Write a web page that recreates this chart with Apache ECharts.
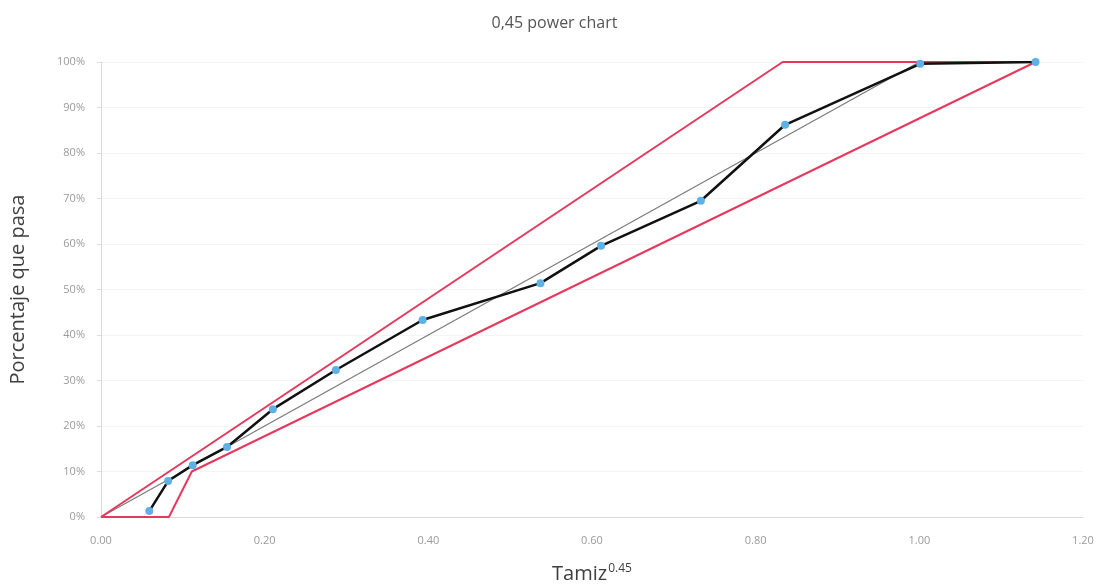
<!DOCTYPE html>
<html>
<head>
<meta charset="utf-8">
<script src="https://cdn.jsdelivr.net/npm/echarts@6/dist/echarts.min.js"></script>
<style>
html,body{margin:0;padding:0;background:#fff;}
#chart{width:1109px;height:588px;}
</style>
</head>
<body>
<div id="chart"></div>
<script>
// Sample curve (tamiz^0.45 vs % passing)
const tamiz = [0.059, 0.082, 0.112, 0.154, 0.210, 0.287, 0.393, 0.537, 0.611, 0.733, 0.836, 1.001, 1.142];
const pasa  = [1.3, 7.9, 11.4, 15.4, 23.7, 32.3, 43.3, 51.4, 59.6, 69.5, 86.2, 99.6, 100];
// Maximum density line
const maxDensX = [0, 1.0];
const maxDensY = [0, 100];
// Specification envelope
const upperX = [0, 0.833, 1.142];
const upperY = [0, 100, 100];
const lowerX = [0, 0.083, 0.111, 1.142];
const lowerY = [0, 0, 10, 100];

const zip = (xs, ys) => xs.map((x, i) => [x, ys[i]]);

const chart = echarts.init(document.getElementById('chart'));
chart.setOption({
  animation: false,
  backgroundColor: '#fff',
  title: {
    text: '0,45 power chart',
    left: 'center',
    top: 10,
    textStyle: {fontFamily: 'Open Sans', fontSize: 16, fontWeight: 'normal', color: '#555'}
  },
  grid: {left: 101, right: 26, top: 62, bottom: 71, outerBoundsMode: 'none', containLabel: false},
  xAxis: {
    type: 'value',
    min: 0, max: 1.2, interval: 0.2,
    name: '{a|Tamiz}{b|0.45}',
    nameLocation: 'middle',
    nameGap: 46,
    nameTextStyle: {
      rich: {
        a: {fontFamily: 'Open Sans', fontSize: 20, color: '#404040'},
        b: {fontFamily: 'Open Sans', fontSize: 12, color: '#404040', verticalAlign: 'top', padding: [0, 0, 10, 1]}
      }
    },
    axisLine: {show: true, lineStyle: {color: '#dcdcdc', width: 1}},
    axisTick: {show: false},
    splitLine: {show: false},
    axisLabel: {
      margin: 18, fontFamily: 'Open Sans', fontSize: 11, color: '#9a9a9a',
      formatter: v => v.toFixed(2)
    }
  },
  yAxis: {
    type: 'value',
    min: 0, max: 100, interval: 10,
    name: 'Porcentaje que pasa',
    nameLocation: 'middle',
    nameGap: 73,
    nameTextStyle: {fontFamily: 'Open Sans', fontSize: 20, color: '#404040'},
    axisLine: {show: true, lineStyle: {color: '#dcdcdc', width: 1}},
    axisTick: {show: true, length: 4, lineStyle: {color: '#dcdcdc'}},
    splitLine: {show: true, lineStyle: {color: '#f4f4f4', width: 1}},
    axisLabel: {
      margin: 16, fontFamily: 'Open Sans', fontSize: 11, color: '#9a9a9a',
      formatter: v => v + '%'
    }
  },
  series: [
    {
      type: 'line', name: 'Máxima densidad',
      data: zip(maxDensX, maxDensY),
      symbol: 'none',
      lineStyle: {color: '#7a7a7a', width: 1.2},
      z: 2
    },
    {
      type: 'line', name: 'Límite superior',
      data: zip(upperX, upperY),
      symbol: 'none',
      lineStyle: {color: '#e6385c', width: 2},
      z: 3
    },
    {
      type: 'line', name: 'Límite inferior',
      data: zip(lowerX, lowerY),
      symbol: 'none',
      lineStyle: {color: '#e6385c', width: 2},
      z: 3
    },
    {
      type: 'line', name: 'Muestra',
      data: zip(tamiz, pasa),
      symbol: 'circle', symbolSize: 8,
      itemStyle: {color: '#5fb0e4', borderWidth: 0},
      lineStyle: {color: '#111', width: 2.5},
      z: 4
    }
  ]
});
</script>
</body>
</html>
